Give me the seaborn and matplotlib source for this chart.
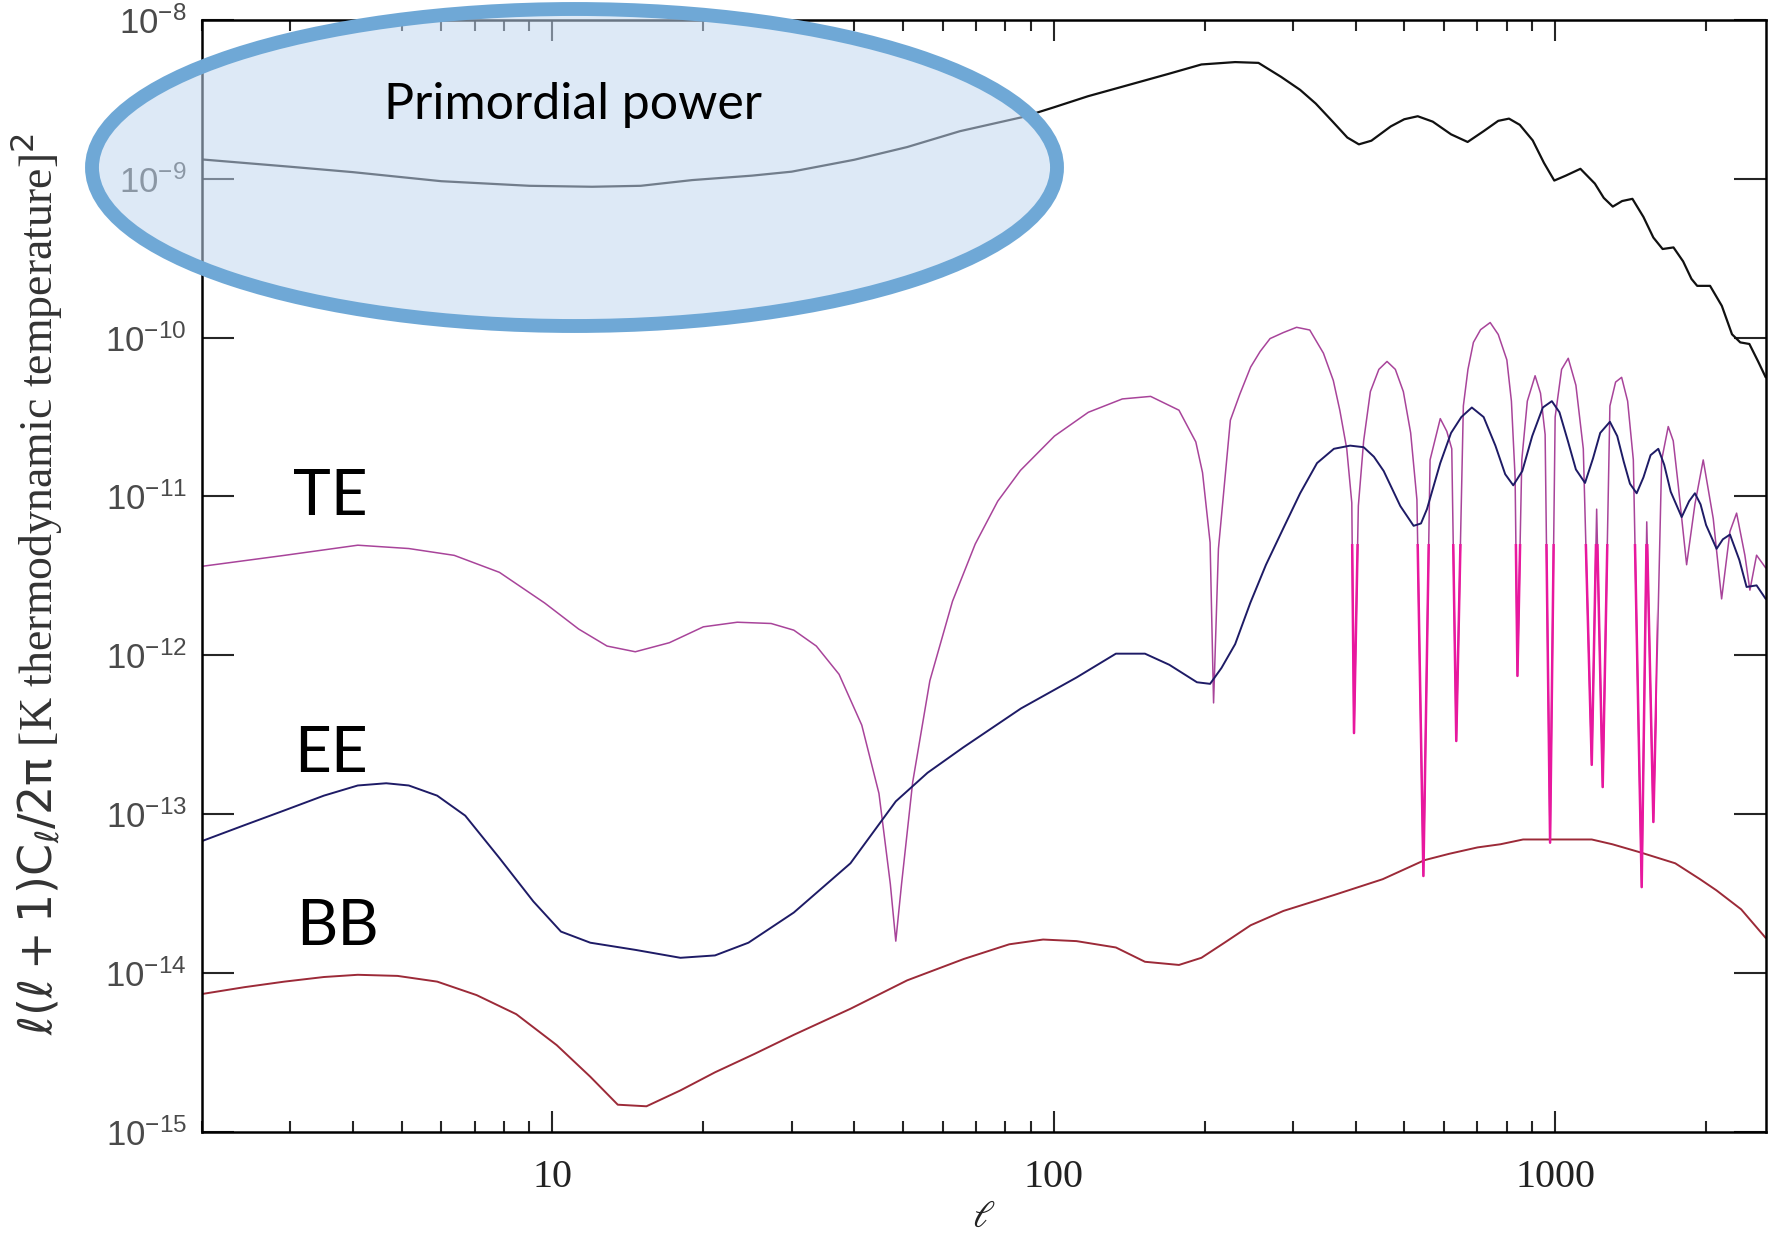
import numpy as np
import pandas as pd
import matplotlib
matplotlib.use("Agg")
import matplotlib.pyplot as plt
from matplotlib.patches import Ellipse, Rectangle
from matplotlib.ticker import NullLocator, LogLocator, NullFormatter
import seaborn as sns

# Angular power spectra: multipole ell and log10 of l(l+1)C_l/2pi [K^2]
tt_ell = [2, 3, 4, 6, 9, 12, 15, 19, 25, 30,
          40, 51, 65, 87, 100, 117, 137, 169, 197, 230,
          256, 284, 310, 333, 360, 385, 406, 430, 470, 500,
          532, 570, 620, 669, 720, 770, 809, 850, 902, 950,
          996, 1050, 1123, 1200, 1250, 1303, 1360, 1426, 1500, 1570,
          1638, 1722, 1800, 1870, 1920, 2037, 2150, 2253, 2340, 2440,
          2540, 2630]
tt_log = [-8.878, -8.924, -8.958, -9.015, -9.044, -9.05, -9.044, -9.008, -8.98, -8.955,
          -8.88, -8.80, -8.70, -8.61, -8.55, -8.48, -8.42, -8.34, -8.28, -8.265,
          -8.27, -8.358, -8.44, -8.526, -8.64, -8.74, -8.783, -8.76, -8.67, -8.625,
          -8.606, -8.64, -8.72, -8.768, -8.70, -8.635, -8.621, -8.66, -8.758, -8.90,
          -9.011, -8.98, -8.937, -9.03, -9.12, -9.175, -9.14, -9.126, -9.24, -9.37,
          -9.442, -9.432, -9.52, -9.63, -9.674, -9.674, -9.80, -9.979, -10.03, -10.04,
          -10.15, -10.25]

te_ell = [2, 2.92, 4.09, 5.17, 6.37, 7.84, 9.65, 11.28, 12.85, 14.63,
          17.11, 20.0, 23.37, 27.3, 30.3, 33.6, 37.3, 41.4, 44.8, 47.2,
          48.4, 49.7, 52.3, 56.6, 62.8, 69.7, 77.3, 85.8, 100.3, 117.2,
          137, 156, 177.7, 192, 198, 205, 208.3, 213, 225, 235,
          247, 258, 270, 287, 305, 324, 345, 361, 372, 384,
          393, 397, 405, 415, 428, 445, 462, 480, 498, 515,
          530, 546, 563, 590, 608, 622, 635, 656, 670, 687,
          710, 742, 770, 801, 818, 832, 841, 858, 880, 912,
          935, 955, 977, 1000, 1030, 1062, 1100, 1138, 1183, 1210,
          1244, 1286, 1320, 1357, 1395, 1432, 1488, 1523, 1570, 1631,
          1681, 1720, 1760, 1829, 1900, 1974, 2067, 2148, 2232, 2301,
          2390, 2446, 2522, 2630]
te_log = [-11.44, -11.371, -11.307, -11.328, -11.371, -11.478, -11.671, -11.835, -11.942, -11.978,
          -11.921, -11.821, -11.792, -11.80, -11.842, -11.942, -12.12, -12.44, -12.87, -13.44,
          -13.80, -13.44, -12.80, -12.16, -11.66, -11.30, -11.03, -10.836, -10.62, -10.47,
          -10.386, -10.37, -10.457, -10.657, -10.85, -11.29, -12.30, -11.33, -10.52, -10.356,
          -10.185, -10.087, -10.006, -9.968, -9.935, -9.952, -10.098, -10.27, -10.458, -10.70,
          -11.04, -12.49, -11.06, -10.65, -10.34, -10.20, -10.15, -10.20, -10.34, -10.60,
          -11.02, -13.39, -10.77, -10.51, -10.59, -10.70, -12.54, -10.43, -10.20, -10.03,
          -9.95, -9.905, -9.98, -10.14, -10.40, -10.88, -12.13, -10.77, -10.40, -10.24,
          -10.35, -10.61, -13.18, -10.50, -10.20, -10.13, -10.30, -10.70, -12.69, -11.08,
          -12.83, -10.43, -10.28, -10.25, -10.40, -10.77, -13.46, -11.16, -13.05, -10.77,
          -10.56, -10.65, -10.93, -11.43, -11.05, -10.77, -11.14, -11.645, -11.22, -11.105,
          -11.37, -11.59, -11.37, -11.45]

ee_ell = [2, 2.43, 2.92, 3.5, 4.09, 4.66, 5.17, 5.89, 6.7, 7.84,
          9.16, 10.4, 11.9, 14.63, 18.0, 21.1, 24.6, 30.3, 39.3, 48.4,
          56, 66, 86, 111, 133, 152, 170, 193, 205, 216,
          230, 246.6, 265, 287, 310, 335, 362, 390, 415, 435,
          455, 491, 522, 540, 555, 590, 620, 650, 682, 720,
          760, 795, 825, 860, 900, 945, 985, 1020, 1060, 1100,
          1147, 1190, 1230, 1286, 1330, 1370, 1410, 1454, 1500, 1550,
          1606, 1650, 1700, 1788, 1850, 1900, 1950, 2000, 2099, 2160,
          2232, 2330, 2409, 2522, 2630]
ee_log = [-13.17, -13.07, -12.977, -12.884, -12.82, -12.806, -12.82, -12.884, -13.01, -13.277,
          -13.55, -13.74, -13.81, -13.855, -13.905, -13.89, -13.81, -13.62, -13.31, -12.92,
          -12.74, -12.58, -12.335, -12.14, -11.99, -11.99, -12.06, -12.17, -12.18, -12.08,
          -11.93, -11.67, -11.43, -11.20, -10.98, -10.79, -10.70, -10.68, -10.69, -10.75,
          -10.84, -11.06, -11.185, -11.17, -11.08, -10.79, -10.60, -10.50, -10.44, -10.50,
          -10.68, -10.86, -10.93, -10.84, -10.62, -10.44, -10.40, -10.47, -10.65, -10.83,
          -10.915, -10.76, -10.60, -10.53, -10.62, -10.78, -10.92, -10.98, -10.88, -10.74,
          -10.70, -10.80, -10.97, -11.13, -11.03, -10.98, -11.05, -11.18, -11.33, -11.27,
          -11.24, -11.40, -11.57, -11.56, -11.645]

bb_ell = [2, 2.43, 2.92, 3.5, 4.09, 4.91, 5.89, 7.06, 8.47, 10.2,
          11.9, 13.5, 15.4, 18.0, 21.1, 25.3, 30.3, 39.3, 51, 66.2,
          81.5, 95.2, 111, 133, 152, 177.7, 197, 219, 247, 287,
          362, 453, 549, 615, 700, 778, 863, 1000, 1183, 1300,
          1474, 1736, 1945, 2097, 2350, 2630]
bb_log = [-14.133, -14.09, -14.055, -14.026, -14.012, -14.019, -14.055, -14.14, -14.26, -14.455,
          -14.654, -14.83, -14.84, -14.74, -14.626, -14.51, -14.39, -14.226, -14.047, -13.912,
          -13.82, -13.79, -13.80, -13.84, -13.93, -13.95, -13.905, -13.81, -13.70, -13.61,
          -13.51, -13.41, -13.29, -13.25, -13.21, -13.19, -13.16, -13.16, -13.16, -13.19,
          -13.24, -13.31, -13.41, -13.48, -13.60, -13.78]

x_ticks = [10, 100, 1000]
x_tick_labels = ["10", "100", "1000"]
y_ticks = [1e-15, 1e-14, 1e-13, 1e-12, 1e-11, 1e-10, 1e-9, 1e-8]
y_tick_labels = [r"$\mathregular{10^{-15}}$", r"$\mathregular{10^{-14}}$",
                 r"$\mathregular{10^{-13}}$", r"$\mathregular{10^{-12}}$",
                 r"$\mathregular{10^{-11}}$", r"$\mathregular{10^{-10}}$",
                 r"$\mathregular{10^{-9}}$", r"$\mathregular{10^{-8}}$"]

spectrum_labels = ["TE", "EE", "BB"]
spectrum_label_pos = [(330, 515), (331, 772), (338, 945)]  # pixel x, baseline y
bubble_text = "Primordial power"


def frame(ell, logc):
    return pd.DataFrame({"ell": np.asarray(ell, float),
                         "cl": np.power(10.0, np.asarray(logc, float))})


sns.set_theme(style="white")
plt.rcParams.update({
    "axes.edgecolor": "black",
    "axes.linewidth": 1.8,
    "figure.facecolor": "white",
    "axes.facecolor": "white",
})

W, H = 1777, 1238
fig = plt.figure(figsize=(W / 100, H / 100), dpi=100)
ax_l, ax_r, ax_t, ax_b = 202, 1765.7, 20, 1131.7
ax = fig.add_axes([ax_l / W, 1 - ax_b / H, (ax_r - ax_l) / W, (ax_b - ax_t) / H])
ax.set_xscale("log")
ax.set_yscale("log")

series = [
    (tt_ell, tt_log, "#111111", 1.6),
    (te_ell, te_log, "#a8449a", 1.1),
    (ee_ell, ee_log, "#1e1b66", 1.4),
    (bb_ell, bb_log, "#9c2a38", 1.4),
]
for ell, logc, col, lw in series:
    sns.lineplot(data=frame(ell, logc), x="ell", y="cl", ax=ax, color=col,
                 linewidth=lw, estimator=None, sort=False, legend=False)

# brighter overlay on the deep TE zero crossings
sns.lineplot(data=frame(te_ell, te_log), x="ell", y="cl", ax=ax, color="#e8189e",
             linewidth=1.8, estimator=None, sort=False, legend=False)
clip = Rectangle((350, 1e-16), 1250, 5e-12, transform=ax.transData)
ax.lines[-1].set_clip_path(clip)

ax.set_xlim(2, 2630)
ax.set_ylim(1e-15, 1e-8)

ax.set_xticks(x_ticks)
ax.set_xticklabels(x_tick_labels, fontfamily="Liberation Serif", fontsize=29, color="#222222")
ax.xaxis.set_minor_locator(LogLocator(base=10, subs=np.arange(2, 10)))
ax.xaxis.set_minor_formatter(NullFormatter())
ax.set_yticks(y_ticks)
ax.set_yticklabels(y_tick_labels, fontfamily="Liberation Sans", fontsize=25, color="#4a4a4a")
ax.yaxis.set_minor_locator(NullLocator())

ax.tick_params(axis="x", which="major", direction="in", length=15, width=1.5,
               top=True, bottom=True, pad=20)
ax.tick_params(axis="x", which="minor", direction="in", length=8, width=1.5,
               top=True, bottom=True)
ax.tick_params(axis="y", which="major", direction="in", length=23, width=1.5,
               left=True, right=True, pad=11)

ax.set_ylabel(r"$\mathrm{\ell(\ell+1)C_{\ell}/2\pi}$ [K thermodynamic temperature]$^\mathrm{2}$",
              fontfamily="Liberation Serif", fontsize=33, color="#333333",
              math_fontfamily="dejavusans")
ax.yaxis.set_label_coords(-0.0885, 0.493)
ax.set_xlabel(r"$\ell$", fontsize=27, color="#222222", math_fontfamily="dejavuserif")
ax.xaxis.set_label_coords(0.5, -0.06)

# highlight bubble around the low-ell temperature spectrum
bubble = Ellipse((574.5 / W, 1 - 167.5 / H), 965 / W, 317 / H,
                 transform=fig.transFigure, facecolor=(0.757, 0.843, 0.941, 0.55),
                 edgecolor="#6fa8d6", linewidth=10, zorder=5)
fig.add_artist(bubble)
fig.text(573.5 / W, 1 - 119 / H, bubble_text, ha="center", va="baseline",
         fontfamily="Lato", fontsize=36, color="black", zorder=6)

for lab, (px, py) in zip(spectrum_labels, spectrum_label_pos):
    fig.text(px / W, 1 - py / H, lab, ha="center", va="baseline",
             fontfamily="Lato", fontsize=46, color="black", zorder=6)

fig.savefig("out.png", dpi=100)
